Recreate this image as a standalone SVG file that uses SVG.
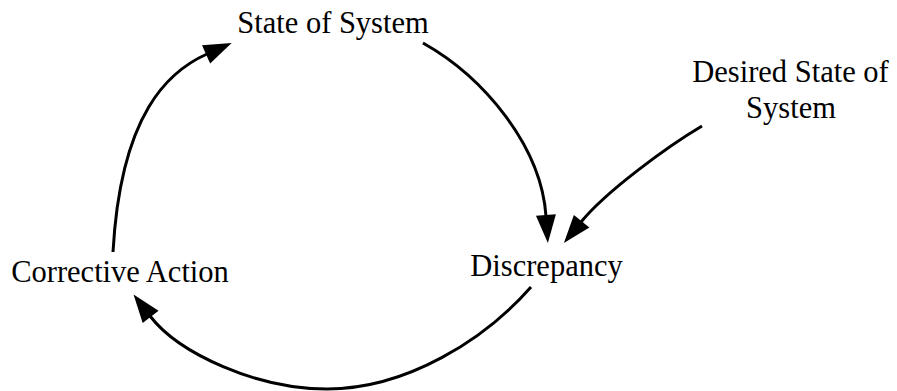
<svg xmlns="http://www.w3.org/2000/svg" width="897" height="391" viewBox="0 0 897 391">
<style>
.lbl{font-family:"Liberation Serif","Times New Roman",serif;font-size:30.5px;fill:#000;text-anchor:middle}
.con{fill:none;stroke:#000;stroke-width:3;stroke-linecap:butt}
</style>
<defs>
<marker id="ah" markerUnits="userSpaceOnUse" markerWidth="32" markerHeight="22" refX="1" refY="10" orient="auto" overflow="visible">
<path d="M0,0 L28,10 L0,20 Z" fill="#000"/>
</marker>
</defs>
<rect width="897" height="391" fill="#fff"/>
<g id="connectors">
<path class="con" marker-end="url(#ah)" d="M113,252 C120.7,112 169.7,70.6 207,54"/>
<path class="con" marker-end="url(#ah)" d="M423,43 C484,77.3 541.1,146 546,216"/>
<path class="con" marker-end="url(#ah)" d="M702,126 C667.6,146.4 606.2,191.2 581,222"/>
<path class="con" marker-end="url(#ah)" d="M531,287 C484.8,339.5 407,389 327,389 C257,389 178.9,353.6 150,316"/>
</g>
<g id="state-of-system"><text class="lbl" x="333" y="33">State of System</text></g>
<g id="desired-state"><text class="lbl" x="790.5" y="82">Desired State of</text><text class="lbl" x="791" y="118">System</text></g>
<g id="corrective-action"><text class="lbl" x="120" y="282">Corrective Action</text></g>
<g id="discrepancy"><text class="lbl" x="546.5" y="276">Discrepancy</text></g>
</svg>
